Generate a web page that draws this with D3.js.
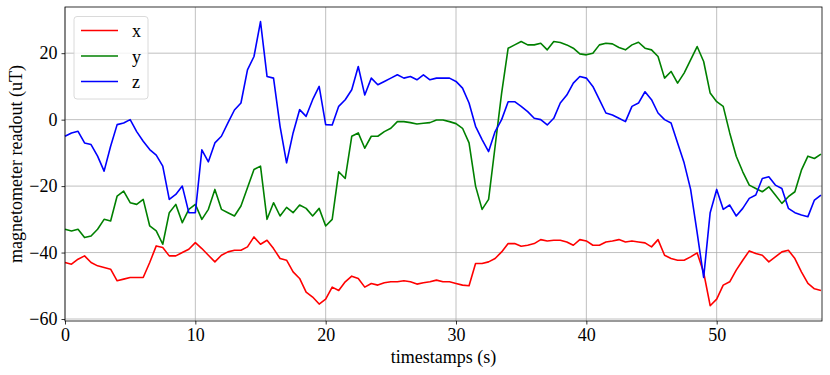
<!DOCTYPE html>
<html>
<head>
<meta charset="utf-8">
<script src="https://cdn.jsdelivr.net/npm/d3@7"></script>
<style>
  body { margin: 0; background: #fff; }
  svg text { font-family: "Liberation Serif", "DejaVu Serif", serif; fill: #000; }
</style>
</head>
<body>
<div id="chart"></div>
<script>
// sampling grid, every 0.5 s from 0 to 58 s
const timestamps = d3.range(0, 58.001, 0.5);

const xValues = [
  -43, -43.5, -42, -41, -43, -44, -44.5, -45, -48.5, -48, -47.5, -47.5, -47.5, -43, -38, -38.5, -41, -41, -40, -39,
  -37, -38.8, -40.8, -42.8, -40.8, -39.8, -39.3, -39.3, -38.3, -35.3, -37.5, -36.3, -38.8, -41.8, -42.3, -45.8, -47.8, -51.9, -53.4, -55.5,
  -54, -50.4, -51.4, -48.8, -47.1, -47.8, -50.4, -49.3, -49.8, -49.1, -48.8, -48.8, -48.5, -48.8, -49.5, -49.1, -48.8, -48.3, -48.8, -48.8,
  -49.3, -49.8, -50, -43.3, -43.3, -42.8, -41.8, -39.8, -37.3, -37.3, -38.1, -37.8, -37.3, -36.1, -36.5, -36.3, -36.3, -36.8, -37.8, -36.1,
  -36.5, -37.8, -37.8, -36.8, -36.5, -36.1, -36.8, -36.5, -36.8, -37.1, -38.3, -36.1, -40.8, -41.8, -42.3, -42.3, -41.3, -40.1, -46, -56,
  -54, -49.8, -48.8, -45.3, -42.3, -39.5, -40.3, -40.8, -42.8, -41.3, -39.8, -39.3, -41.8, -45.8, -49.3, -50.9, -51.4
];

const yValues = [
  -33, -33.5, -33, -35.5, -35, -33, -30, -30.5, -23, -21.5, -25, -25.5, -24, -32, -33.5, -37.5, -28, -25.5, -31, -27,
  -25.5, -30, -27, -21, -27, -28, -29, -26, -20.5, -15, -14, -30, -25, -29, -26.4, -28, -25.7, -26.7, -29, -26.7,
  -32, -30, -15.7, -17.7, -5, -4, -8.6, -5, -5, -3.6, -2.6, -0.6, -0.6, -0.9, -1.3, -1.1, -0.9, -0.1, -0.1, -0.6,
  -1.2, -2.6, -7, -20, -27, -24, -8, 8, 21.5, 22.5, 23.5, 22.5, 22.5, 23, 21, 23.5, 23.2, 22.5, 21.5, 19.8,
  19.5, 20, 22.5, 23, 22.8, 21.7, 21, 22.5, 23.3, 21.5, 21, 19, 12.5, 14.5, 11, 14, 18, 22, 17.5, 8,
  5.4, 4, -4, -11, -15.7, -19.7, -20.7, -21.7, -20.2, -22.7, -25.2, -23.2, -21.7, -15.2, -11, -11.7, -10.4
];

const zValues = [
  -5, -4, -3.5, -7, -7.5, -11, -15.5, -8, -1.5, -1, 0, -3.6, -6.5, -9, -10.7, -14, -24, -22.5, -20, -28,
  -28, -9.1, -12.7, -7, -5, -1, 2.9, 5, 15, 19, 29.5, 13, 12.5, -2, -13, -4, 3, 1, 6, 10,
  -1.5, -1.6, 4, 6, 9, 16, 7.4, 12.5, 10.5, 11.5, 12.5, 13.5, 12.5, 13, 12, 13.5, 12, 12.5, 12.5, 12.5,
  11.5, 9.5, 5, -2, -6, -9.6, -3.6, 0, 5.4, 5.4, 4, 2.4, 0.4, 0, -1.6, 0.4, 5, 7.4, 11, 13,
  12.5, 10, 6, 2, 1.4, 0.4, -0.6, 4, 5, 8.4, 6, 2, 0, -1, -7, -13, -21, -34, -47.5, -28,
  -21, -27, -25.7, -29, -26.7, -23.7, -22.7, -17.7, -17.2, -19.7, -20.7, -26.7, -28, -28.7, -29.2, -24.2, -22.7
];

const seriesNames = ["x", "y", "z"];
const seriesColors = ["#ff0000", "#008000", "#0000ff"];
const xTicks = [0, 10, 20, 30, 40, 50];
const yTicks = [-60, -40, -20, 0, 20];

const width = 830;
const height = 375;
const margin = { top: 7, right: 8, bottom: 54, left: 65 };
const innerW = width - margin.left - margin.right;
const innerH = height - margin.top - margin.bottom;

const svg = d3.select("#chart").append("svg")
  .attr("width", width)
  .attr("height", height);

const g = svg.append("g").attr("transform", `translate(${margin.left},${margin.top})`);

const x = d3.scaleLinear().domain([0, 58.08]).range([0, innerW]);
const y = d3.scaleLinear().domain([-60.6, 33.9]).range([innerH, 0]);

const fmt = d => String(d).replace("-", "\u2212");

// grid
g.append("g").selectAll("line").data(xTicks).join("line")
  .attr("x1", d => x(d)).attr("x2", d => x(d))
  .attr("y1", 0).attr("y2", innerH)
  .attr("stroke", "#b0b0b0").attr("stroke-width", 0.8);
g.append("g").selectAll("line").data(yTicks).join("line")
  .attr("x1", 0).attr("x2", innerW)
  .attr("y1", d => y(d)).attr("y2", d => y(d))
  .attr("stroke", "#b0b0b0").attr("stroke-width", 0.8);

// lines
const series = [xValues, yValues, zValues];
const line = d3.line().x((d, i) => x(timestamps[i])).y(d => y(d));
g.append("g").selectAll("path").data(series).join("path")
  .attr("d", d => line(d))
  .attr("fill", "none")
  .attr("stroke", (d, i) => seriesColors[i])
  .attr("stroke-width", 1.6)
  .attr("stroke-linejoin", "round");

// axes
const xAxis = g.append("g").attr("transform", `translate(0,${innerH})`)
  .call(d3.axisBottom(x).tickValues(xTicks).tickSize(3.5).tickPadding(4).tickFormat(fmt));
const yAxis = g.append("g")
  .call(d3.axisLeft(y).tickValues(yTicks).tickSize(3.5).tickPadding(4).tickFormat(fmt));
[xAxis, yAxis].forEach(a => {
  a.select(".domain").remove();
  a.selectAll("line").attr("stroke", "#000").attr("stroke-width", 0.8);
  a.selectAll("text").style("font-size", "18px").attr("font-family", null);
});

// frame
g.append("rect")
  .attr("x", 0).attr("y", 0).attr("width", innerW).attr("height", innerH)
  .attr("fill", "none").attr("stroke", "#000").attr("stroke-width", 0.8);

// labels
svg.append("text")
  .attr("x", margin.left + innerW / 2).attr("y", 363)
  .attr("text-anchor", "middle").style("font-size", "18px")
  .text("timestamps (s)");
svg.append("text")
  .attr("transform", `translate(22,${margin.top + innerH / 2}) rotate(-90)`)
  .attr("text-anchor", "middle").style("font-size", "18px")
  .text("magnetometer readout (uT)");

// legend
const legend = svg.append("g").attr("transform", "translate(74,16.5)");
legend.append("rect")
  .attr("width", 74).attr("height", 82.5).attr("rx", 3)
  .attr("fill", "#fff").attr("fill-opacity", 0.8)
  .attr("stroke", "#d0d0d0").attr("stroke-width", 0.8);
seriesNames.forEach((name, i) => {
  const yy = 14 + i * 25.5;
  legend.append("line")
    .attr("x1", 7).attr("x2", 44).attr("y1", yy).attr("y2", yy)
    .attr("stroke", seriesColors[i]).attr("stroke-width", 1.6);
  legend.append("text")
    .attr("x", 58).attr("y", yy + 6.5).style("font-size", "18px")
    .text(name);
});
</script>
</body>
</html>
